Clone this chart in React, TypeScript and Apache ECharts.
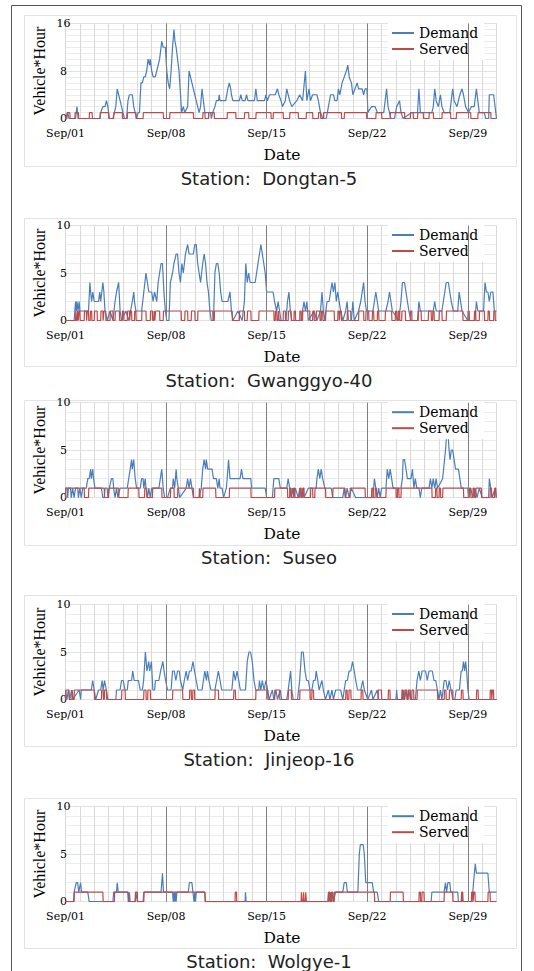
import React, { useEffect, useRef } from 'react';
import * as echarts from 'echarts';

// ---------- DATA (x = days since Sep 1 00:00, y = Vehicle*Hour) ----------
const STATIONS = ['Dongtan-5', 'Gwanggyo-40', 'Suseo', 'Jinjeop-16', 'Wolgye-1'];
const X_TICKS = [0, 7, 14, 21, 28];
const X_TICK_LABELS = ['Sep/01', 'Sep/08', 'Sep/15', 'Sep/22', 'Sep/29'];
const Y_MAX = [16, 10, 10, 10, 10];
const Y_STEP = [8, 5, 5, 5, 5];

const DONGTAN_DEMAND = [[0,0],[0.15,1],[0.25,0],[0.7,0],[0.8,2],[0.88,0],[2.4,0],[2.45,1],[2.6,2],[2.75,2],[2.85,3],[2.95,2],[3.05,0],[3.3,0],[3.4,1],[3.5,2],[3.6,5],[3.7,4],[3.8,3],[3.9,2],[4.0,1],[4.1,0],[4.25,0],[4.35,3],[4.45,4],[4.65,4],[4.75,2],[4.85,1],[4.95,0],[5.05,1],[5.15,1],[5.25,6],[5.35,6],[5.45,7],[5.55,7],[5.65,8],[5.75,10],[5.85,9],[5.9,10],[6.0,8],[6.1,7],[6.25,7],[6.35,8],[6.45,9],[6.55,10],[6.6,11],[6.7,13],[6.8,12],[6.95,12],[7.05,8],[7.15,6],[7.25,5],[7.35,8],[7.45,12],[7.55,15],[7.62,13],[7.7,12],[7.8,10],[7.9,8],[7.98,5],[8.08,1],[8.2,2],[8.3,1],[8.5,2],[8.6,8],[8.7,7],[8.8,6],[8.9,5],[9.0,4],[9.1,3],[9.2,2],[9.3,1],[9.4,2],[9.5,5],[9.6,3],[9.7,1],[10.1,1],[10.15,0],[10.25,1],[10.4,2],[10.5,3],[10.65,3],[10.7,4],[10.75,3],[11.15,3],[11.3,5],[11.4,6],[11.5,5],[11.55,4],[11.65,3],[12.1,3],[12.2,4],[12.3,3],[12.5,3],[12.6,4],[12.7,3],[13.15,3],[13.25,5],[13.35,3],[13.85,3],[13.95,4],[14.05,3],[14.2,4],[14.6,4],[14.75,5],[14.85,4],[15.0,3],[15.1,2],[15.3,3],[15.4,5],[15.5,4],[15.6,3],[15.75,2],[16.1,3],[16.3,4],[16.5,3],[16.7,8],[16.8,3],[16.95,5],[17.05,3],[17.2,4],[17.5,4],[17.6,3],[17.75,1],[17.9,0],[18.15,0],[18.3,2],[18.45,4],[18.65,4],[18.75,3],[18.9,3],[19.0,5],[19.1,4],[19.25,6],[19.4,7],[19.55,8],[19.65,9],[19.75,7],[19.9,6],[20.0,4],[20.15,5],[20.3,6],[20.4,5],[20.65,5],[20.75,4],[20.85,5],[20.98,5],[21.05,1],[21.3,2],[21.55,2],[21.7,1],[22.15,1],[22.35,5],[22.45,2],[22.55,1],[22.65,0],[22.9,0],[23.05,2],[23.25,3],[23.35,1],[23.5,0],[24.1,1],[24.5,1],[24.6,5],[24.7,1],[25.5,1],[25.6,2],[25.7,5],[25.8,3],[25.95,2],[26.1,4],[26.2,2],[26.35,1],[26.75,1],[26.85,3],[26.95,5],[27.05,3],[27.25,2],[27.45,4],[27.6,5],[27.7,4],[27.85,2],[28.05,1],[28.25,2],[28.45,2],[28.6,5],[28.7,3],[28.8,1],[29.15,1],[29.25,0],[29.45,0],[29.5,4],[29.8,4],[30,0]];
const DONGTAN_SERVED = [[0.1,0.3],[0.65,0.9],[1.65,1.85],[2.4,3.0],[3.35,3.95],[4.3,4.9],[5.4,6.8],[7.25,8.9],[9.55,9.7],[9.95,10.35],[11.25,11.85],[12.45,12.75],[13.25,14.3],[14.45,15.15],[15.6,16.2],[16.75,17.2],[17.6,17.75],[17.95,19.2],[19.4,20.95],[21.6,22.0],[22.6,23.6],[24.0,24.2],[24.5,24.9],[25.3,25.6],[26.2,26.8],[27.2,28.2],[28.7,29.6]];

const GWANGGYO_DEMAND = [[0,0],[0.6,0],[0.7,2],[0.75,1],[0.8,2],[0.87,1],[0.95,2],[1.0,1],[1.6,1],[1.7,4],[1.75,3],[1.82,2],[1.9,3],[2.0,2],[2.3,2],[2.38,3],[2.45,2],[2.6,4],[2.67,3],[2.75,1],[2.9,0],[3.1,1],[3.3,0],[3.45,2],[3.55,3],[3.7,4],[3.8,1],[3.9,0],[4.2,1],[4.4,0],[4.65,2],[4.75,3],[4.8,2],[4.9,1],[5.3,1],[5.45,3],[5.6,5],[5.7,4],[5.8,3],[6.0,3],[6.1,2],[6.2,3],[6.35,2],[6.45,4],[6.55,5],[6.65,6],[6.75,6],[6.85,3],[6.95,1],[7.05,0],[7.2,0],[7.3,4],[7.45,5],[7.55,6],[7.7,7],[7.8,7],[7.9,5],[8.0,4],[8.1,6],[8.2,5],[8.35,7],[8.5,8],[8.6,7],[8.75,7],[8.9,7],[9.0,8],[9.1,8],[9.2,6],[9.3,5],[9.4,4],[9.55,6],[9.65,7],[9.75,6],[9.85,4],[9.95,3],[10.05,1],[10.15,0],[10.3,0],[10.4,5],[10.5,6],[10.6,6],[10.7,5],[10.8,3],[10.9,2],[11.3,2],[11.45,3],[11.55,1],[11.65,0],[12.0,1],[12.3,0],[12.45,2],[12.55,6],[12.65,4],[12.75,5],[12.85,4],[13.2,4],[13.3,5],[13.4,6],[13.5,7],[13.6,8],[13.7,7],[13.8,6],[13.9,5],[14.0,3],[14.45,3],[14.55,2],[14.7,1],[14.8,2],[14.9,1],[15.0,0],[15.35,0],[15.45,2],[15.55,3],[15.65,1],[15.75,0],[16.4,0],[16.5,1],[16.6,2],[16.7,1],[16.8,2],[16.9,0],[17.3,1],[17.5,0],[17.75,1],[17.85,3],[17.95,1],[18.05,0],[18.2,2],[18.35,2],[18.45,3],[18.55,4],[18.65,3],[18.75,4],[18.85,2],[18.95,3],[19.05,2],[19.15,1],[19.3,0],[19.5,1],[19.6,2],[19.7,0],[19.9,0],[20.0,2],[20.1,0],[20.4,1],[20.55,2],[20.65,3],[20.75,4],[20.85,2],[20.95,1],[21.4,1],[21.5,2],[21.6,3],[21.7,2],[21.8,1],[22.3,1],[22.45,2],[22.55,3],[22.65,2],[22.75,1],[23.2,0],[23.35,2],[23.45,4],[23.6,4],[23.7,3],[23.8,2],[23.9,1],[24.05,0],[24.5,0],[24.6,2],[24.7,1],[25.0,1],[25.6,1],[25.7,2],[25.8,1],[26.2,1],[26.3,2],[26.4,3],[26.5,4],[26.65,4],[26.75,3],[26.85,2],[27.0,1],[27.3,1],[27.4,3],[27.5,2],[27.6,1],[28.0,0],[28.5,0],[28.6,2],[28.7,1],[29.1,1],[29.2,4],[29.3,3],[29.4,3],[29.5,2],[29.6,3],[29.75,3],[29.85,1],[30,1]];
const GWANGGYO_SERVED = [[0.7,0.75],[0.82,0.87],[0.92,1.0],[1.3,1.45],[1.5,1.6],[1.72,1.82],[2.0,2.2],[2.45,2.6],[2.65,2.8],[3.1,3.3],[3.45,3.75],[3.95,4.05],[4.3,4.45],[4.5,4.6],[4.8,4.9],[5.3,5.6],[5.9,6.05],[6.15,6.2],[6.25,6.55],[6.8,8.05],[8.3,8.5],[8.75,9.0],[9.2,10.25],[10.35,11.6],[12.1,12.45],[12.65,12.9],[13.45,14.5],[14.6,14.7],[14.8,14.85],[15.15,15.3],[15.5,15.7],[15.9,16.0],[16.3,16.4],[16.5,17.0],[17.2,17.3],[17.45,17.7],[17.8,17.9],[18.1,18.7],[18.95,19.05],[19.1,19.2],[19.6,19.85],[20.4,20.75],[20.9,21.1],[21.35,21.45],[21.7,21.8],[22.25,22.7],[22.95,23.05],[23.15,23.25],[23.4,23.65],[24.0,24.1],[24.55,24.75],[25.25,25.45],[25.55,25.65],[26.0,26.2],[26.5,27.65],[28.0,28.1],[28.45,28.55],[28.8,29.15],[29.4,29.5],[29.8,29.9]];

const SUSEO_DEMAND = [[0,1],[0.1,1],[0.15,0],[0.2,1],[0.35,1],[0.4,0],[0.5,1],[0.6,0],[0.7,1],[0.85,1],[0.9,0],[1.0,1],[1.1,0],[1.2,1],[1.45,1],[1.55,2],[1.65,2],[1.75,3],[1.8,2],[1.9,3],[1.95,2],[2.05,1],[2.5,1],[2.6,0],[2.7,0],[2.75,1],[2.9,1],[2.95,0],[3.05,1],[3.2,2],[3.3,2],[3.35,1],[3.45,0],[3.55,1],[3.65,0],[3.8,1],[4.3,1],[4.4,2],[4.5,3],[4.6,4],[4.65,3],[4.75,4],[4.85,2],[4.95,1],[5.2,1],[5.3,2],[5.4,2],[5.45,1],[5.55,2],[5.6,1],[5.7,0],[5.8,1],[5.9,0],[6.0,1],[6.5,1],[6.6,2],[6.7,3],[6.75,2],[6.8,1],[6.9,0],[7.1,0],[7.3,1],[7.45,1],[7.5,2],[7.6,1],[7.7,3],[7.75,2],[7.85,1],[7.95,0],[8.4,1],[8.5,2],[8.6,1],[8.7,2],[8.8,1],[8.9,0],[9.3,0],[9.45,1],[9.55,3],[9.65,4],[9.75,3],[9.8,4],[9.9,3],[10.0,3],[10.2,3],[10.3,2],[10.5,2],[10.6,1],[10.7,2],[10.75,1],[10.9,1],[11.0,0],[11.2,1],[11.35,4],[11.45,2],[12.15,2],[12.25,3],[12.35,2],[12.9,2],[12.95,1],[13.9,1],[14.0,0],[14.4,0],[14.5,2],[14.85,2],[14.95,1],[15.4,1],[15.5,2],[15.6,1],[15.7,0],[15.8,1],[15.9,0],[16.0,1],[16.2,0],[16.3,1],[16.4,0],[16.5,1],[16.6,0],[16.9,1],[17.45,1],[17.5,2],[17.6,3],[17.7,2],[17.8,3],[17.9,2],[18.05,1],[18.5,1],[18.6,0],[19.3,0],[19.4,1],[19.5,0],[19.6,1],[19.75,0],[19.9,1],[20.2,0],[21.4,0],[21.5,2],[21.6,1],[21.7,0],[21.8,1],[21.9,0],[22.0,1],[22.3,1],[22.4,3],[22.5,2],[22.6,3],[22.7,2],[22.8,1],[23.35,1],[23.45,2],[23.5,4],[23.6,4],[23.7,3],[23.8,2],[24.05,2],[24.15,3],[24.25,1],[24.35,2],[24.45,1],[24.6,1],[24.7,0],[24.8,1],[25.3,1],[25.4,2],[25.5,1],[25.6,2],[25.7,1],[25.8,2],[25.9,1],[26.25,2],[26.45,5],[26.55,7],[26.62,7],[26.7,5],[26.77,4],[26.85,5],[26.95,5],[27.05,4],[27.15,3],[27.35,3],[27.45,2],[27.55,1],[28.0,1],[28.05,0],[28.2,1],[28.35,0],[28.5,1],[28.65,0],[28.8,1],[29.0,0],[29.45,0],[29.5,2],[29.6,1],[29.7,0],[29.9,1],[30,0]];
const SUSEO_SERVED = [[0,1.3],[1.6,2.7],[3.0,3.7],[4.35,5.1],[5.5,5.65],[6.05,6.7],[7.3,7.55],[7.8,8.9],[9.3,9.35],[9.55,10.45],[11.4,12.9],[14.55,15.45],[15.6,15.7],[15.85,15.95],[16.3,16.4],[16.5,16.6],[17.05,17.2],[17.35,18.1],[18.6,19.45],[19.8,20.85],[21.3,21.4],[21.55,21.65],[22.3,23.0],[23.1,23.2],[23.35,25.5],[25.75,25.85],[26.0,26.1],[26.25,27.7],[28.1,28.2],[28.35,28.45],[28.55,28.95],[29.55,29.65],[29.85,29.95]];

const JINJEOP_DEMAND = [[0,1],[0.1,0],[0.2,1],[0.3,0],[0.42,1],[0.5,0],[0.95,1],[1.05,0],[1.1,1],[1.8,1],[1.89,2],[2.0,1],[2.1,0],[2.3,1],[2.45,1],[2.55,2],[2.62,1],[2.72,2],[2.84,1],[2.95,0],[3.5,0],[3.55,1],[3.8,1],[3.9,2],[4.02,2],[4.14,1],[4.3,1],[4.37,2],[4.6,2],[4.68,3],[4.78,2],[5.08,2],[5.2,1],[5.35,1],[5.44,2],[5.56,5],[5.67,3],[5.79,4],[5.86,3],[5.98,4],[6.08,1],[6.2,1],[6.26,2],[6.5,2],[6.62,3],[6.78,4],[6.86,3],[6.97,2],[7.1,1],[7.35,1],[7.45,3],[7.57,3],[7.68,2],[7.8,3],[7.92,3],[8.0,2],[8.16,1],[8.27,2],[8.4,3],[8.5,2],[8.63,3],[8.75,3],[8.87,4],[8.98,3],[9.1,2],[9.22,1],[9.5,1],[9.7,3],[9.81,2],[9.88,3],[9.98,2],[10.12,1],[10.4,1],[10.52,2],[10.64,3],[10.76,2],[10.87,1],[11.58,1],[11.7,3],[11.82,2],[11.94,3],[12.06,2],[12.17,1],[12.53,1],[12.65,4],[12.77,5],[12.88,5],[13.0,4],[13.12,2],[13.24,1],[13.45,1],[13.5,2],[13.6,1],[13.7,2],[13.82,1],[13.95,2],[14.07,1],[14.18,0],[14.4,1],[14.5,0],[14.65,1],[14.75,0],[14.95,1],[15.05,0],[15.4,0],[15.5,1],[15.67,3],[15.75,1],[15.85,0],[16.15,0],[16.3,2],[16.43,5],[16.55,5],[16.67,3],[16.78,2],[16.9,2],[17.02,1],[17.15,1],[17.26,2],[17.38,2],[17.45,3],[17.56,2],[17.65,1],[17.85,2],[17.95,1],[18.09,0],[18.3,1],[18.4,0],[18.55,1],[18.65,0],[18.8,1],[19.15,1],[19.3,0],[19.4,1],[19.5,2],[19.62,2],[19.74,3],[19.86,3],[19.98,4],[20.1,3],[20.2,2],[20.33,1],[20.55,1],[20.69,2],[20.8,1],[21.04,0],[21.3,1],[21.4,0],[21.7,1],[21.8,0],[22.0,0],[23.0,0],[23.05,1],[23.1,0],[23.45,0],[23.5,1],[23.6,0],[23.7,1],[23.8,0],[23.9,1],[24.0,0],[24.35,0],[24.47,2],[24.59,3],[24.7,2],[24.82,3],[25.06,3],[25.18,2],[25.3,3],[25.53,3],[25.65,2],[25.77,2],[25.89,1],[26.0,0],[26.1,1],[26.2,0],[26.36,2],[26.48,2],[26.6,1],[26.71,2],[26.83,1],[26.95,0],[27.1,0],[27.19,1],[27.42,1],[27.54,3],[27.62,3],[27.7,4],[27.78,3],[27.85,4],[27.92,3],[28.01,1],[28.1,0],[30,0]];
const JINJEOP_SERVED = [[0,0.24],[0.45,0.5],[0.6,2.0],[2.5,2.62],[2.7,2.85],[3.9,4.15],[5.44,5.6],[5.72,5.9],[7.45,8.15],[8.63,8.75],[8.85,8.98],[10.4,10.64],[11.7,11.82],[13.24,14.07],[14.55,14.9],[15.5,15.72],[16.3,17.02],[17.14,17.26],[19.5,19.6],[19.72,19.86],[20.57,20.69],[21.75,21.99],[22.46,22.58],[23.4,23.5],[23.6,23.75],[23.85,24.0],[24.1,24.23],[24.47,25.89],[26.36,26.48],[26.71,26.95],[27.54,27.66],[28.6,28.72],[29.55,29.65],[29.7,29.79]];

const WOLGYE_DEMAND = [[0,0],[0.55,0],[0.6,1],[0.75,2],[0.85,2],[0.92,1],[1.05,2],[1.12,1],[1.55,1],[1.65,0],[3.3,0],[3.35,1],[3.55,1],[3.6,2],[3.67,1],[4.35,1],[4.4,0],[4.45,1],[4.5,0],[4.85,0],[4.9,1],[5.0,0],[5.4,0],[5.45,1],[6.65,1],[6.75,3],[6.82,1],[7.45,1],[7.5,0],[7.55,1],[7.6,0],[7.65,1],[7.7,0],[7.75,1],[8.55,1],[8.62,2],[8.8,2],[8.87,1],[8.95,0],[9.0,1],[9.05,0],[9.1,1],[9.7,1],[9.75,0],[12.5,0],[12.53,1],[12.57,0],[18.25,0],[18.3,1],[18.35,0],[18.45,1],[18.5,0],[18.6,1],[18.65,0],[18.8,1],[19.3,1],[19.4,2],[19.55,2],[19.62,1],[20.35,1],[20.45,5],[20.52,6],[20.72,6],[20.8,5],[20.9,2],[21.35,2],[21.45,1],[21.7,1],[21.8,0],[25.45,0],[25.5,1],[26.35,1],[26.45,2],[26.52,1],[26.62,2],[26.75,2],[26.82,1],[27.3,1],[27.35,0],[27.55,0],[27.6,1],[27.65,0],[28.3,0],[28.4,2],[28.52,4],[28.6,3],[29.4,3],[29.5,1],[30,1]];
const WOLGYE_SERVED = [[0.6,2.6],[3.4,4.35],[4.85,5.0],[5.45,9.7],[11.8,11.9],[16.4,16.45],[16.55,16.6],[16.7,16.75],[18.3,18.4],[18.5,18.6],[18.7,21.5],[22.6,23.5],[24.6,24.7],[24.8,24.95],[26.35,26.95],[27.55,27.65],[28.25,28.35],[28.4,28.5],[29.4,29.55]];

const DEMAND = [DONGTAN_DEMAND, GWANGGYO_DEMAND, SUSEO_DEMAND, JINJEOP_DEMAND, WOLGYE_DEMAND];
const SERVED = [DONGTAN_SERVED, GWANGGYO_SERVED, SUSEO_SERVED, JINJEOP_SERVED, WOLGYE_SERVED];

// ---------- LAYOUT ----------
const GRID_TOP = [23.5, 225.5, 402.7, 604.5, 806.7];
const GRID_H = 95;
const GRID_LEFT = 65.5;
const GRID_W = 431;
const BOX = [[24, 15, 492, 151], [24, 218, 492, 148], [24, 400, 492, 145], [24, 595, 492, 151], [24, 798, 492, 150]];
const BLUE = '#4a7ebb';
const RED = '#be4b48';
const SERIF = '"DejaVu Serif", serif';

function servedPoints(intervals: number[][]) {
  const pts: number[][] = [[0, 0]];
  for (const [s, e] of intervals) {
    pts.push([s, 0], [s + 0.02, 1], [e, 1], [e + 0.02, 0]);
  }
  pts.push([30, 0]);
  return pts;
}

function buildOption() {
  const grid: any[] = [], xAxis: any[] = [], yAxis: any[] = [], series: any[] = [], legend: any[] = [], graphic: any[] = [];
  graphic.push({ type: 'rect', shape: { x: 11.5, y: 5.5, width: 510, height: 980 }, style: { fill: 'none', stroke: '#555', lineWidth: 1 }, z: -10 });
  STATIONS.forEach((name, i) => {
    const top = GRID_TOP[i];
    const zeroY = top + GRID_H;
    const [bx, by, bw, bh] = BOX[i];
    graphic.push({ type: 'rect', shape: { x: bx + 0.5, y: by + 0.5, width: bw, height: bh }, style: { fill: 'none', stroke: '#e3e3e3', lineWidth: 1 }, z: -10 });
    graphic.push({ type: 'text', x: 39, y: top + GRID_H / 2, rotation: Math.PI / 2, style: { text: 'Vehicle*Hour', font: '16px "Liberation Serif", serif', fill: '#000', align: 'center', verticalAlign: 'middle' } });
    graphic.push({ type: 'text', x: GRID_LEFT + GRID_W / 2 + 1, y: zeroY + 36, style: { text: 'Date', font: '15.5px ' + SERIF, fill: '#000', align: 'center', verticalAlign: 'middle' } });
    graphic.push({ type: 'text', x: 269, y: zeroY + 59.5, style: { text: 'Station:  ' + name, font: '18px "DejaVu Sans", sans-serif', fill: '#222', align: 'center', verticalAlign: 'middle' } });

    grid.push({ left: GRID_LEFT, top, width: GRID_W, height: GRID_H, containLabel: false });
    xAxis.push({
      type: 'value', gridIndex: i, min: 0, max: 30, interval: 1,
      axisLine: { show: false }, axisTick: { show: false },
      axisLabel: {
        margin: 9, fontFamily: SERIF, fontSize: 11, color: '#000',
        formatter: (v: number) => { const k = X_TICKS.indexOf(v); return k >= 0 ? X_TICK_LABELS[k] : ''; },
      },
      splitLine: { show: true, lineStyle: { color: '#d9d9d9', width: 1 } },
    });
    yAxis.push({
      type: 'value', gridIndex: i, min: 0, max: Y_MAX[i], interval: Y_STEP[i],
      axisLine: { show: false }, axisTick: { show: false },
      axisLabel: { margin: 2, align: 'center', fontFamily: SERIF, fontSize: 11, color: '#000' },
      splitLine: { show: true, lineStyle: { color: '#e2e2e2', width: 1 } },
      minorTick: { show: false, splitNumber: Y_STEP[i] },
      minorSplitLine: { show: true, lineStyle: { color: '#ececec', width: 1 } },
    });
    series.push({
      type: 'line', name: '_weeks' + i, xAxisIndex: i, yAxisIndex: i, data: [[0, 0]], showSymbol: false, silent: true,
      lineStyle: { opacity: 0 }, z: 1,
      markLine: { silent: true, symbol: 'none', label: { show: false }, lineStyle: { color: '#7f7f7f', width: 1, type: 'solid' },
        data: X_TICKS.slice(1).map((d) => ({ xAxis: d })) },
    });
    series.push({
      type: 'line', name: 'Demand', xAxisIndex: i, yAxisIndex: i, data: DEMAND[i], showSymbol: false, z: 3,
      lineStyle: { color: BLUE, width: 1.2 }, itemStyle: { color: BLUE },
    });
    series.push({
      type: 'line', name: 'Served', xAxisIndex: i, yAxisIndex: i, data: servedPoints(SERVED[i]), showSymbol: false, z: 4,
      lineStyle: { color: RED, width: 1.2 }, itemStyle: { color: RED },
    });
    legend.push({
      data: ['Demand', 'Served'], orient: 'vertical', left: 388, top: top - 1.5, itemGap: 0,
      icon: 'rect', itemWidth: 22, itemHeight: 2, padding: [3, 6, 3, 4], backgroundColor: '#fff',
      textStyle: { fontFamily: SERIF, fontSize: 14, lineHeight: 16, color: '#000' }, selectedMode: false,
    });
  });
  return { animation: false, backgroundColor: '#fff', grid, xAxis, yAxis, series, legend, graphic };
}

export default function App() {
  const ref = useRef<HTMLDivElement>(null);
  useEffect(() => {
    const chart = echarts.init(ref.current as HTMLDivElement, null, { renderer: 'svg' });
    chart.setOption(buildOption() as any);
    return () => chart.dispose();
  }, []);
  return <div ref={ref} style={{ position: 'absolute', left: 0, top: 0, width: 534, height: 971, background: '#fff' }} />;
}
